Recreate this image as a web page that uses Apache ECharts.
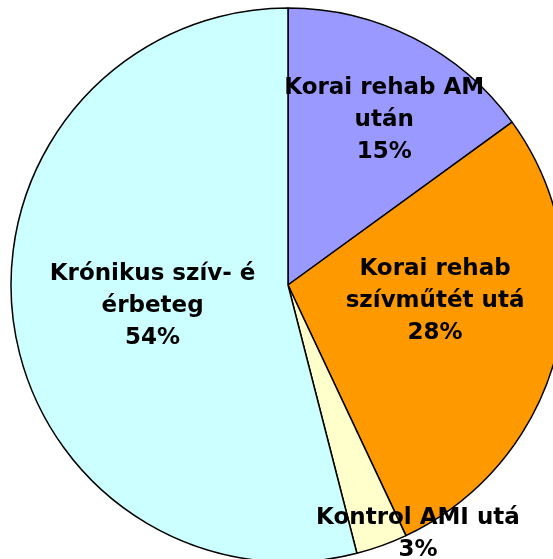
<!DOCTYPE html>
<html>
<head>
<meta charset="utf-8">
<script src="https://cdn.jsdelivr.net/npm/echarts@6/dist/echarts.min.js"></script>
<style>
  html, body { margin: 0; padding: 0; background: #fff; }
  #chart { width: 553px; height: 559px; }
</style>
</head>
<body>
<div id="chart"></div>
<script>
// kategóriák (a felirat sortörésekkel, ahogy a képen)
const categories = [
  "Korai rehab AM\nután",
  "Korai rehab\nszívműtét utá",
  "Kontrol AMI utá",
  "Krónikus szív- é\nérbeteg"
];
const values = [15, 28, 3, 54];
const colors = ["#9999ff", "#ff9900", "#ffffcc", "#ccffff"];

// label eltolás a belső pozícióhoz képest
const labelShift = [[32, -39], [10, -19], [82, 116], [5, 3]];

const myChart = echarts.init(document.getElementById("chart"));

const option = {
  animation: false,
  series: [
    {
      type: "pie",
      center: [288, 285],
      radius: 277,
      startAngle: 90,
      clockwise: true,
      data: categories.map((name, i) => ({
        name: name,
        value: values[i],
        itemStyle: { color: colors[i] },
      })),
      itemStyle: {
        borderColor: "#000",
        borderWidth: 1.5,
      },
      label: {
        position: "inside",
        formatter: "{b}\n{d}%",
        color: "#000",
        fontFamily: "DejaVu Sans",
        fontWeight: "bold",
        fontSize: 23,
        lineHeight: 32,
        align: "center",
      },
      labelLine: { show: false },
      labelLayout: function (params) {
        const s = labelShift[params.dataIndex];
        return { dx: s[0], dy: s[1] };
      },
      emphasis: { disabled: true },
    },
  ],
};

myChart.setOption(option, true);
</script>
</body>
</html>
